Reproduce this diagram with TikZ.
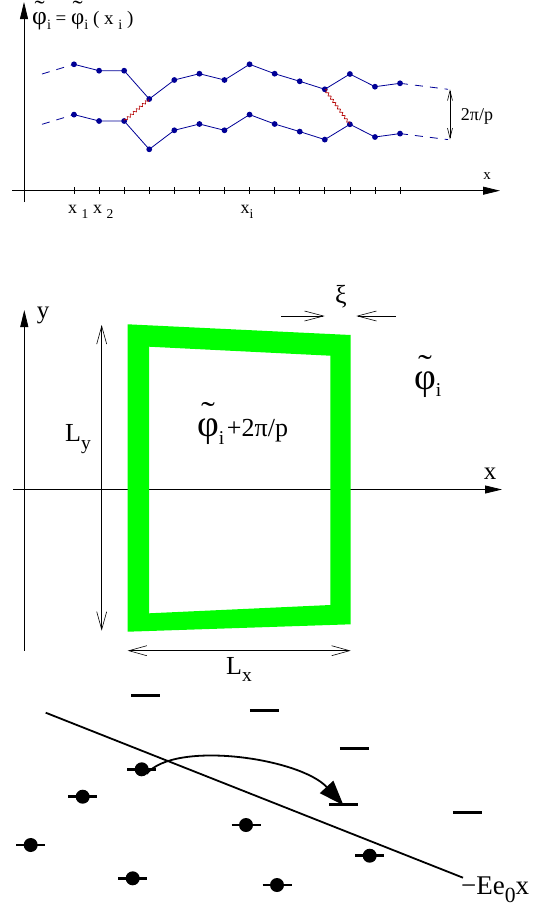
\documentclass[tikz,border=0pt]{standalone}
\usepackage{fontspec}
\setmainfont{Liberation Serif}
\usepackage{graphicx}
\usetikzlibrary{arrows.meta,decorations.pathmorphing}
\definecolor{chainblue}{RGB}{0,0,150}
\definecolor{wavyred}{RGB}{180,0,0}
\definecolor{bandgreen}{RGB}{0,255,0}
% phi with a wide tilde above it: #1 = scale of phi, #2 = raise of tilde
\newcommand{\tphi}[2]{\ooalign{\scalebox{#1}{φ}\cr\hidewidth\raisebox{#2}{\scalebox{1.6}[1.2]{˜}}\hidewidth\cr}}
\newcommand{\lowsub}[1]{\raisebox{-0.3em}{\scalebox{0.75}{#1}}}
\newcommand{\fsz}[1]{\fontsize{#1}{#1}\selectfont}
\begin{document}
\begin{tikzpicture}[x=1pt,y=-1pt,
  axisline/.style={line width=0.8pt,-{Triangle[length=17pt,width=8pt]}},
  barbarrow/.style={line width=0.6pt,{Straight Barb[length=18pt,width=10pt]}-{Straight Barb[length=18pt,width=10pt]}},
  barbone/.style={line width=0.6pt,-{Straight Barb[length=19pt,width=10pt]}},
  chainline/.style={chainblue,line width=0.8pt},
  chaindash/.style={chainblue,line width=0.8pt,dash pattern=on 8pt off 7pt},
  wavy/.style={wavyred,line width=0.6pt,decorate,decoration={snake,amplitude=1.3pt,segment length=4pt}},
  toplabel/.style={inner sep=0pt,font=\fsz{18}},
  midlabel/.style={inner sep=0pt,font=\fsz{26}},
  level/.style={line width=2.7pt},
  botline/.style={line width=1.8pt}]
\useasboundingbox (0,0) rectangle (546,905);

% ---------------- top panel ----------------
\coordinate (yA0) at (24,202);
\coordinate (yA1) at (24,2);
\coordinate (xA0) at (12,190.7);
\coordinate (xA1) at (500,190.7);
\draw[axisline] (yA0) -- (yA1);
\draw[axisline] (xA0) -- (xA1);
\foreach \k in {0,...,13}
  \draw[line width=0.7pt] (74+25.08*\k,187) -- (74+25.08*\k,194);

\foreach \y [count=\k from 0] in {64.3,70.7,70.7,99,80,73.7,80,64.3,73.7,81.3,89.3,74,86.7,83.3}{
  \coordinate (u\k) at (74+25.08*\k,\y);
  \coordinate (l\k) at (74+25.08*\k,\y+50.3);
}
\draw[chainline] (u0) \foreach \k in {1,...,13}{ -- (u\k)};
\draw[chainline] (l0) \foreach \k in {1,...,13}{ -- (l\k)};
\foreach \k in {0,...,13}{
  \fill[chainblue] (u\k) circle (2.9);
  \fill[chainblue] (l\k) circle (2.9);
}
\coordinate (ul) at (42,74);
\coordinate (ll) at (42,124.3);
\coordinate (ur) at (448,89.3);
\coordinate (lr) at (448,139.6);
\draw[chaindash] (ul) -- (u0);
\draw[chaindash] (ll) -- (l0);
\draw[chaindash] (u13) -- (ur);
\draw[chaindash] (l13) -- (lr);
\draw[wavy] (l2) -- (u3);
\draw[wavy] (u10) -- (l11);

\coordinate (pa) at (450,89.3);
\coordinate (pb) at (450,139.3);
\draw[line width=0.6pt,{Straight Barb[length=10pt,width=5pt]}-{Straight Barb[length=10pt,width=5pt]}] (pa) -- (pb);
\node[toplabel] (twopi) at (477,116) {2π/p};
\node[toplabel,anchor=base west,font=\fsz{19}] (ylab) at (32,24) {\tphi{1.35}{0.42em}\lowsub{i} = \tphi{1.2}{0.38em}\lowsub{i} ( x \lowsub{i} )};
\node[toplabel,font=\fsz{15}] (xlab) at (487,176) {x};
\node[toplabel,anchor=base west] (x1) at (68,213) {x \lowsub{1}};
\node[toplabel,anchor=base west] (x2) at (93,213) {x \lowsub{2}};
\node[toplabel,anchor=base west] (xi) at (240.5,213) {x\lowsub{i}};

% ---------------- middle panel ----------------
\coordinate (myA0) at (24.3,650.7);
\coordinate (myA1) at (24.3,310);
\coordinate (mxA0) at (13,489.5);
\coordinate (mxA1) at (502,489.5);
\draw[axisline] (myA0) -- (myA1);
\draw[axisline] (mxA0) -- (mxA1);
\node[midlabel,anchor=base,font=\fsz{25}] (ylabm) at (43,318) {y};
\node[midlabel,font=\fsz{25}] (xlabm) at (490,474) {x};

\fill[bandgreen,even odd rule]
  (127.7,324.3) -- (350.7,335) -- (350.7,624.3) -- (127.7,631.7) -- cycle
  (149,346.7) -- (330.3,355.7) -- (330.3,605) -- (149,613.3) -- cycle;

\coordinate (lya) at (101.7,325);
\coordinate (lyb) at (101.7,630.7);
\draw[barbarrow] (lya) -- (lyb);
\node[midlabel,anchor=base west] (Ly) at (65,441.7) {L\lowsub{y}};

\coordinate (lxa) at (127.7,650.7);
\coordinate (lxb) at (350.7,650.7);
\draw[barbarrow] (lxa) -- (lxb);
\node[midlabel,anchor=base west] (Lx) at (226,674) {L\lowsub{x}};

\coordinate (xia) at (281,316);
\coordinate (xib) at (324.7,316);
\coordinate (xic) at (395.7,316);
\coordinate (xid) at (356.3,316);
\draw[barbone] (xia) -- (xib);
\draw[barbone] (xic) -- (xid);
\node[midlabel,font=\fsz{26}] (xi) at (341,297) {ξ};

\node[midlabel,anchor=base west] (phiout) at (414,389) {\tphi{1.45}{0.5em}\lowsub{i}};
\node[midlabel,anchor=base west] (phiin) at (197,436.7) {\tphi{1.45}{0.5em}\lowsub{i}\hspace{0.1em}+2π/p};

% ---------------- bottom panel ----------------
\coordinate (ba) at (45.7,712.7);
\coordinate (bb) at (463,877.7);
\draw[botline] (ba) -- (bb);
\node[midlabel,anchor=base west,font=\fsz{27}] (Elab) at (461,894) {−Ee\raisebox{-0.3em}{\scalebox{0.8}{0}}x};

\foreach \x/\y [count=\n] in {145.8/695.7,264.3/710.7,354.3/748.3,343.5/804.3,467.3/812.3}{
  \coordinate (lev\n) at (\x,\y);
  \draw[level] ([xshift=-14.5pt]lev\n) -- ([xshift=14.5pt]lev\n);
}
\foreach \x/\y [count=\n] in {141.7/769.3,82.7/796.7,30.7/845,132.7/878.3,246/825,369.7/855.7,277/885}{
  \coordinate (d\n) at (\x,\y);
  \draw[level] ([xshift=-14.5pt]d\n) -- ([xshift=14.5pt]d\n);
  \fill (d\n) circle (7);
}
\draw[line width=1.8pt,-{Triangle[length=25pt,width=18pt]}]
  ([xshift=5pt,yshift=-4.5pt]d1) .. controls (175,740) and (300,758) .. ([yshift=-1pt]lev4);
\end{tikzpicture}
\end{document}
